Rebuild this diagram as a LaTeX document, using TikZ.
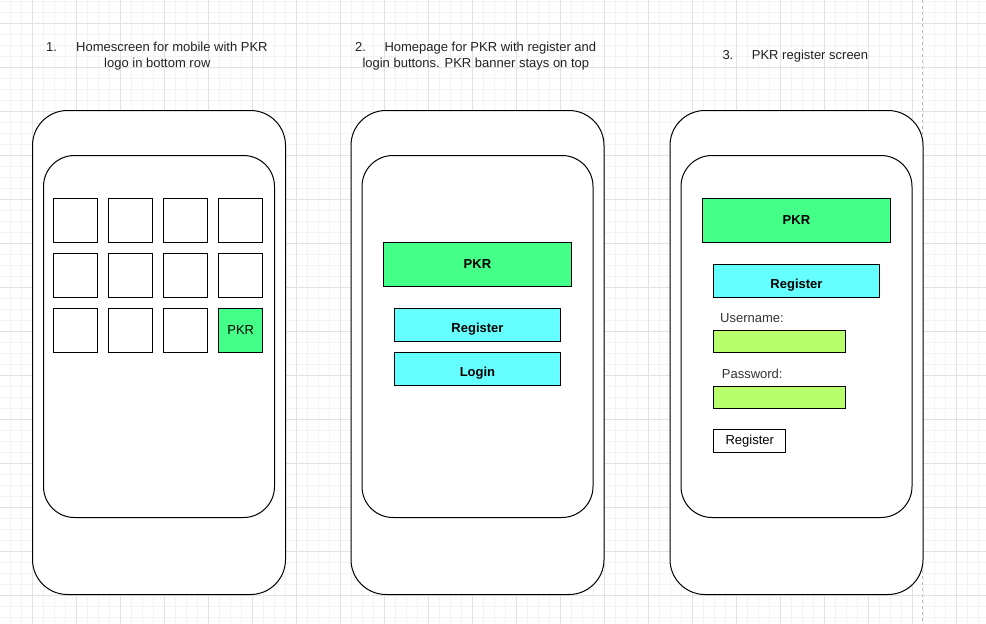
\documentclass[tikz,border=0pt]{standalone}
\usepackage{fontspec}
\setmainfont{Liberation Sans}
\definecolor{gridminor}{RGB}{243,243,243}
\definecolor{gridmajor}{RGB}{226,226,226}
\definecolor{pagebreak}{RGB}{190,190,190}
\definecolor{pkrgreen}{RGB}{68,255,136}
\definecolor{btncyan}{RGB}{102,255,255}
\definecolor{fieldlime}{RGB}{185,255,107}
\definecolor{captext}{RGB}{34,34,34}
\begin{document}
\begin{tikzpicture}[x=1pt,y=-1pt,
  minorline/.style={draw=gridminor, line width=0.8pt},
  majorline/.style={draw=gridmajor, line width=0.8pt},
  phone/.style={draw=black, line width=1pt, fill=white, rounded corners=35pt,
    minimum width=253pt, minimum height=484pt, anchor=north west, inner sep=0pt},
  screen/.style={draw=black, line width=1pt, fill=white, rounded corners=31pt,
    minimum width=231pt, minimum height=362pt, anchor=north west, inner sep=0pt},
  txt/.style={font=\fontsize{13}{16}\selectfont, text=captext, inner sep=0pt, anchor=base west},
  box/.style={draw=black, line width=0.9pt, anchor=north west, inner sep=0pt,
    font=\fontsize{13}{16}\selectfont, text height=9.3pt, text depth=2.6pt},
  appicon/.style={box, fill=white, minimum width=44pt, minimum height=44pt},
  banner/.style={box, fill=pkrgreen, font=\fontsize{13}{16}\selectfont\bfseries},
  button/.style={box, fill=btncyan, font=\fontsize{13}{16}\selectfont\bfseries,
    text height=13.5pt, text depth=0pt},
  field/.style={box, fill=fieldlime, minimum width=132pt, minimum height=22pt},
]
% canvas and grid
\useasboundingbox (0,0) rectangle (986,624);
\fill[white] (0,0) rectangle (986,624);
\foreach \gx in {10,21,...,986} \draw[minorline] (\gx,0) -- (\gx,624);
\foreach \gy in {1,12,...,624} \draw[minorline] (0,\gy) -- (986,\gy);
\foreach \gx in {32,76,...,986} \draw[majorline] (\gx,0) -- (\gx,624);
\foreach \gy in {23,67,...,624} \draw[majorline] (0,\gy) -- (986,\gy);
% page break marker
\draw[pagebreak, line width=0.8pt, dash pattern=on 3pt off 3pt] (922.5,0) -- (922.5,624);

% captions
\node[txt] (n1) at (46,51) {1.};
\node[txt] (c1a) at (76,51) {Homescreen for mobile with PKR};
\node[txt] (c1b) at (104,67) {logo in bottom row};
\node[txt] (n2) at (355,51) {2.};
\node[txt] (c2a) at (384.3,51) {Homepage for PKR with register and};
\node[txt] (c2b) at (362.3,67) {login buttons. PKR banner stays on top};
\node[txt] (n3) at (722.3,59) {3.};
\node[txt] (c3) at (751.7,59) {PKR register screen};

% phone bodies and screens
\node[phone] (phoneA) at (32,110) {};
\node[screen] (screenA) at (43,155) {};
\node[phone] (phoneB) at (350.5,110) {};
\node[screen] (screenB) at (361.5,155) {};
\node[phone] (phoneC) at (669.5,110) {};
\node[screen] (screenC) at (680.5,155) {};

% screen 1: app grid
\foreach \r in {0,1,2} {
  \foreach \c in {0,1,2,3} {
    \node[appicon] (icon\r\c) at ({53.3+55*\c},{198.3+55*\r}) {};
  }
}
\node[appicon, fill=pkrgreen] (iconPKR) at (218.3,308.3) {PKR};

% screen 2: landing page
\node[banner, minimum width=187.4pt, minimum height=44pt] (bannerB) at (383.3,242.3) {PKR};
\node[button, minimum width=165.4pt, minimum height=33pt] (regB) at (394.3,308.3) {Register};
\node[button, minimum width=165.4pt, minimum height=33pt] (loginB) at (394.3,352.3) {Login};

% screen 3: register form
\node[banner, minimum width=187.4pt, minimum height=44pt] (bannerC) at (702.3,198.3) {PKR};
\node[button, minimum width=165.4pt, minimum height=33pt] (regC) at (713.3,264.3) {Register};
\node[txt, text=black!80] (userlbl) at (720,322.7) {Username:};
\node[field] (userfield) at (713.3,330.3) {};
\node[txt, text=black!80] (passlbl) at (721.7,378.3) {Password:};
\node[field] (passfield) at (713.3,385.5) {};
\node[box, fill=white, minimum width=72pt, minimum height=22.5pt] (submitC) at (713.3,429) {Register};
\end{tikzpicture}
\end{document}
